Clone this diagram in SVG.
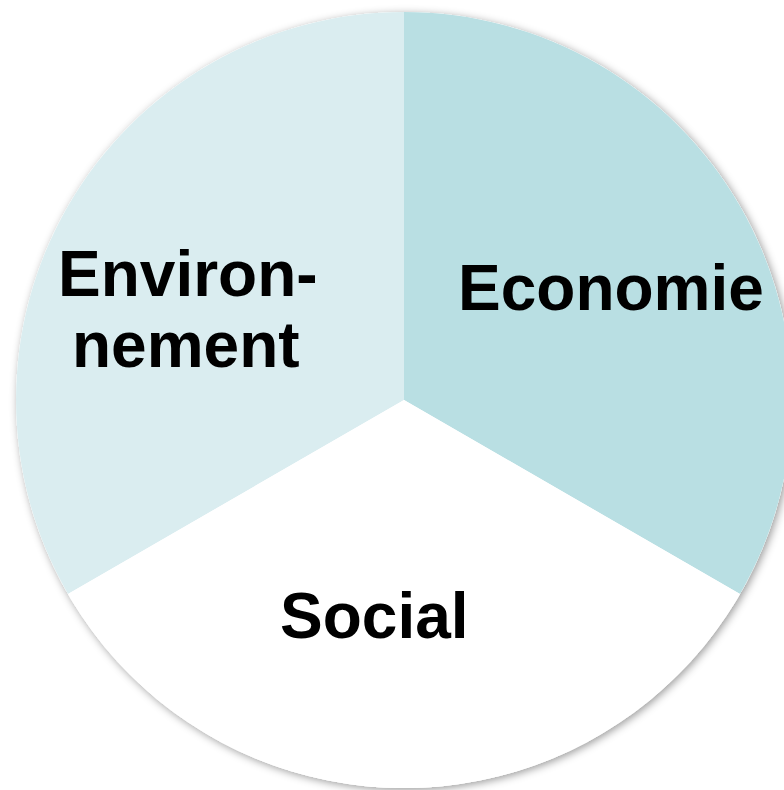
<svg xmlns="http://www.w3.org/2000/svg" width="784" height="790" viewBox="0 0 784 790">
<defs>
<filter id="sh" x="-10%" y="-10%" width="120%" height="120%">
<feDropShadow dx="2" dy="2" stdDeviation="4" flood-color="#000" flood-opacity="0.4"/>
</filter>
<style>
.lbl{font-family:"Liberation Sans",Arial,sans-serif;font-weight:bold;font-size:64px;fill:#000}
</style>
</defs>
<rect width="784" height="790" fill="#fff"/>
<circle cx="404" cy="400" r="388" fill="#fff" filter="url(#sh)"/>
<g id="environnement">
<path d="M404,400 L404,12 A388,388 0 0,0 68,594 Z" fill="#DAEDF0"/>
<text class="lbl" x="58" y="296">Environ-</text>
<text class="lbl" x="72" y="367">nement</text>
</g>
<g id="economie">
<path d="M404,400 L404,12 A388,388 0 0,1 740,594 Z" fill="#B9DFE3"/>
<text class="lbl" x="458" y="310">Economie</text>
</g>
<g id="social">
<path d="M404,400 L740,594 A388,388 0 0,1 68,594 Z" fill="#FFFFFF"/>
<text class="lbl" x="280" y="638">Social</text>
</g>
<g id="connectors"></g>
</svg>
